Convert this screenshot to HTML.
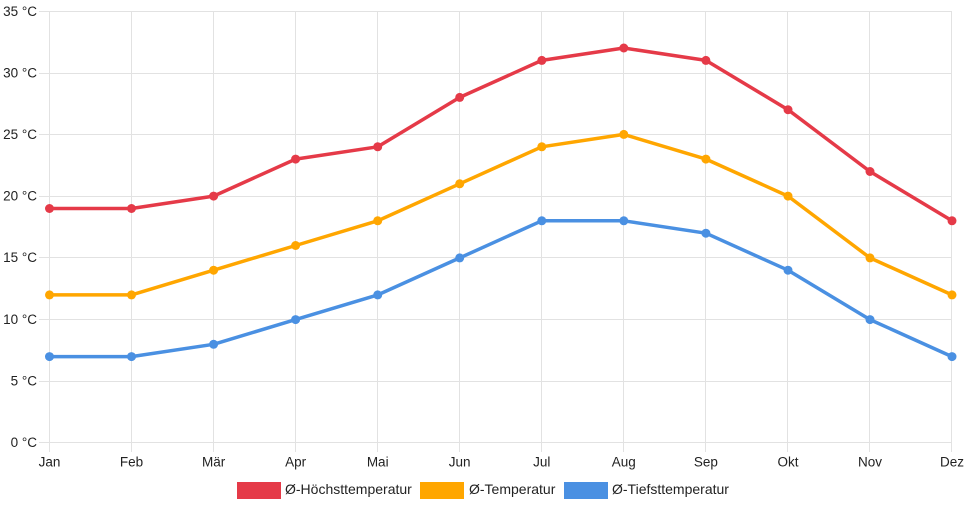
<!DOCTYPE html>
<html><head><meta charset="utf-8"><style>
html,body{margin:0;padding:0;background:#fff;}
svg{display:block;font-family:"Liberation Sans",Arial,sans-serif;}
</style></head><body>
<svg width="968" height="508" viewBox="0 0 968 508" xmlns="http://www.w3.org/2000/svg">
<g stroke="#e2e2e2" stroke-width="1" shape-rendering="crispEdges">
<line x1="39" y1="11.5" x2="952" y2="11.5"/>
<line x1="39" y1="73.5" x2="952" y2="73.5"/>
<line x1="39" y1="134.5" x2="952" y2="134.5"/>
<line x1="39" y1="196.5" x2="952" y2="196.5"/>
<line x1="39" y1="257.5" x2="952" y2="257.5"/>
<line x1="39" y1="319.5" x2="952" y2="319.5"/>
<line x1="39" y1="381.5" x2="952" y2="381.5"/>
<line x1="39" y1="442.5" x2="952" y2="442.5"/>
<line x1="49.5" y1="11" x2="49.5" y2="452"/>
<line x1="131.5" y1="11" x2="131.5" y2="452"/>
<line x1="213.5" y1="11" x2="213.5" y2="452"/>
<line x1="295.5" y1="11" x2="295.5" y2="452"/>
<line x1="377.5" y1="11" x2="377.5" y2="452"/>
<line x1="459.5" y1="11" x2="459.5" y2="452"/>
<line x1="541.5" y1="11" x2="541.5" y2="452"/>
<line x1="623.5" y1="11" x2="623.5" y2="452"/>
<line x1="705.5" y1="11" x2="705.5" y2="452"/>
<line x1="787.5" y1="11" x2="787.5" y2="452"/>
<line x1="869.5" y1="11" x2="869.5" y2="452"/>
<line x1="951.5" y1="11" x2="951.5" y2="452"/>
</g>
<g font-size="13.5" fill="#222" text-anchor="end">
<text x="37" y="16">35 °C</text>
<text x="37" y="77.5">30 °C</text>
<text x="37" y="139">25 °C</text>
<text x="37" y="200.5">20 °C</text>
<text x="37" y="262">15 °C</text>
<text x="37" y="324">10 °C</text>
<text x="37" y="385.5">5 °C</text>
<text x="37" y="447">0 °C</text>
</g>
<g font-size="13.5" fill="#222" text-anchor="middle">
<text x="49.5" y="466.5">Jan</text>
<text x="131.5" y="466.5">Feb</text>
<text x="213.6" y="466.5">Mär</text>
<text x="295.6" y="466.5">Apr</text>
<text x="377.7" y="466.5">Mai</text>
<text x="459.7" y="466.5">Jun</text>
<text x="541.8" y="466.5">Jul</text>
<text x="623.8" y="466.5">Aug</text>
<text x="705.9" y="466.5">Sep</text>
<text x="788" y="466.5">Okt</text>
<text x="870" y="466.5">Nov</text>
<text x="952" y="466.5">Dez</text>
</g>
<g fill="none" stroke-width="3.5" stroke-linejoin="round">
<polyline stroke="#e53a48" points="49.5,208.5 131.5,208.5 213.6,196.1 295.6,159.1 377.7,146.8 459.7,97.4 541.8,60.4 623.8,48 705.9,60.4 788,109.7 870,171.5 952,220.8"/>
<polyline stroke="#ffa600" points="49.5,294.9 131.5,294.9 213.6,270.2 295.6,245.5 377.7,220.8 459.7,183.8 541.8,146.8 623.8,134.4 705.9,159.1 788,196.1 870,257.9 952,294.9"/>
<polyline stroke="#4a90e2" points="49.5,356.6 131.5,356.6 213.6,344.3 295.6,319.6 377.7,294.9 459.7,257.9 541.8,220.8 623.8,220.8 705.9,233.2 788,270.2 870,319.6 952,356.6"/>
</g>
<g fill="#e53a48">
<circle cx="49.5" cy="208.5" r="4.5"/><circle cx="131.5" cy="208.5" r="4.5"/><circle cx="213.6" cy="196.1" r="4.5"/><circle cx="295.6" cy="159.1" r="4.5"/><circle cx="377.7" cy="146.8" r="4.5"/><circle cx="459.7" cy="97.4" r="4.5"/><circle cx="541.8" cy="60.4" r="4.5"/><circle cx="623.8" cy="48" r="4.5"/><circle cx="705.9" cy="60.4" r="4.5"/><circle cx="788" cy="109.7" r="4.5"/><circle cx="870" cy="171.5" r="4.5"/><circle cx="952" cy="220.8" r="4.5"/>
</g>
<g fill="#ffa600">
<circle cx="49.5" cy="294.9" r="4.5"/><circle cx="131.5" cy="294.9" r="4.5"/><circle cx="213.6" cy="270.2" r="4.5"/><circle cx="295.6" cy="245.5" r="4.5"/><circle cx="377.7" cy="220.8" r="4.5"/><circle cx="459.7" cy="183.8" r="4.5"/><circle cx="541.8" cy="146.8" r="4.5"/><circle cx="623.8" cy="134.4" r="4.5"/><circle cx="705.9" cy="159.1" r="4.5"/><circle cx="788" cy="196.1" r="4.5"/><circle cx="870" cy="257.9" r="4.5"/><circle cx="952" cy="294.9" r="4.5"/>
</g>
<g fill="#4a90e2">
<circle cx="49.5" cy="356.6" r="4.5"/><circle cx="131.5" cy="356.6" r="4.5"/><circle cx="213.6" cy="344.3" r="4.5"/><circle cx="295.6" cy="319.6" r="4.5"/><circle cx="377.7" cy="294.9" r="4.5"/><circle cx="459.7" cy="257.9" r="4.5"/><circle cx="541.8" cy="220.8" r="4.5"/><circle cx="623.8" cy="220.8" r="4.5"/><circle cx="705.9" cy="233.2" r="4.5"/><circle cx="788" cy="270.2" r="4.5"/><circle cx="870" cy="319.6" r="4.5"/><circle cx="952" cy="356.6" r="4.5"/>
</g>
<rect x="237" y="482" width="44" height="17" fill="#e53a48"/>
<rect x="420" y="482" width="44" height="17" fill="#ffa600"/>
<rect x="564" y="482" width="44" height="17" fill="#4a90e2"/>
<g font-size="14" fill="#222">
<text x="285" y="494">Ø-Höchsttemperatur</text>
<text x="469" y="494">Ø-Temperatur</text>
<text x="612" y="494">Ø-Tiefsttemperatur</text>
</g>
</svg>
</body></html>
